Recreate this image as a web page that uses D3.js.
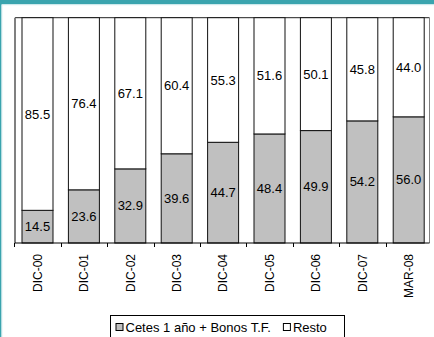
<!DOCTYPE html>
<html>
<head>
<meta charset="utf-8">
<script src="https://cdn.jsdelivr.net/npm/d3@7"></script>
<style>
  html, body { margin: 0; padding: 0; background: #fff; }
  svg { display: block; }
  text { font-family: "Liberation Sans", Arial, sans-serif; fill: #000; }
</style>
</head>
<body>
<svg id="chart" width="434" height="337"></svg>
<script>
// Shares of the total (%) per period
const categories = ["DIC-00", "DIC-01", "DIC-02", "DIC-03", "DIC-04", "DIC-05", "DIC-06", "DIC-07", "MAR-08"];
const cetes = [14.5, 23.6, 32.9, 39.6, 44.7, 48.4, 49.9, 54.2, 56.0];
const resto = [85.5, 76.4, 67.1, 60.4, 55.3, 51.6, 50.1, 45.8, 44.0];
const seriesNames = ["Cetes 1 año + Bonos T.F.", "Resto"];
const seriesColors = ["#c0c0c0", "#ffffff"];

const svg = d3.select("#chart");
const W = 434, H = 337;

// frame strip along the top and left
svg.append("rect").attr("x", 0).attr("y", 0).attr("width", W).attr("height", 4).attr("fill", "#3aa4ae");
svg.append("rect").attr("x", 0).attr("y", 4).attr("width", W).attr("height", 1.2).attr("fill", "#cde9ec");
svg.append("rect").attr("x", 0).attr("y", 0).attr("width", 1.5).attr("height", H).attr("fill", "#3aa4ae");
svg.append("rect").attr("x", 1.5).attr("y", 5).attr("width", 0.8).attr("height", H).attr("fill", "#cde9ec");

const plot = { left: 15, right: 429.5, top: 17.7, bottom: 243 };

const x = d3.scaleBand()
  .domain(categories)
  .range([14.3, 431.9])
  .paddingInner(0.332)
  .paddingOuter(0.166);

const y = d3.scaleLinear().domain([0, 100]).range([plot.bottom, plot.top]);

const rows = categories.map((c, i) => ({ cat: c, cetes: cetes[i], resto: resto[i] }));
const stack = d3.stack().keys(["cetes", "resto"])(rows);

// plot area border
svg.append("line").attr("x1", plot.left).attr("x2", plot.right)
  .attr("y1", plot.top).attr("y2", plot.top).attr("stroke", "#222").attr("stroke-width", 1);
svg.append("line").attr("x1", plot.left).attr("x2", plot.left)
  .attr("y1", plot.top).attr("y2", plot.bottom).attr("stroke", "#808080").attr("stroke-width", 2);
svg.append("line").attr("x1", plot.right).attr("x2", plot.right)
  .attr("y1", plot.top).attr("y2", plot.bottom).attr("stroke", "#808080").attr("stroke-width", 1);

// stacked bars
const layers = svg.append("g").selectAll("g").data(stack).join("g")
  .attr("fill", (d, i) => seriesColors[i]);

layers.selectAll("rect").data(d => d).join("rect")
  .attr("x", d => x(d.data.cat))
  .attr("width", x.bandwidth())
  .attr("y", d => y(d[1]))
  .attr("height", d => y(d[0]) - y(d[1]))
  .attr("stroke", "#111")
  .attr("stroke-width", 1);

// value labels centred in each segment
layers.selectAll("text").data(d => d).join("text")
  .attr("x", d => x(d.data.cat) + x.bandwidth() / 2)
  .attr("y", d => (y(d[0]) + y(d[1])) / 2)
  .attr("dy", "0.35em")
  .attr("text-anchor", "middle")
  .attr("font-size", 13)
  .text(d => (d[1] - d[0]).toFixed(1));

// category axis
const step = x.step();
const axisG = svg.append("g");
axisG.append("line").attr("x1", plot.left).attr("x2", plot.right)
  .attr("y1", plot.bottom).attr("y2", plot.bottom).attr("stroke", "#000").attr("stroke-width", 1);
axisG.selectAll("line.tick").data(d3.range(categories.length)).join("line")
  .attr("class", "tick")
  .attr("x1", i => Math.round(x.range()[0] + i * step) + 0.5)
  .attr("x2", i => Math.round(x.range()[0] + i * step) + 0.5)
  .attr("y1", plot.bottom).attr("y2", plot.bottom + 4)
  .attr("stroke", "#000");
axisG.selectAll("text").data(categories).join("text")
  .attr("transform", d => `translate(${x(d) + x.bandwidth() / 2},254) rotate(-90)`)
  .attr("text-anchor", "end")
  .attr("dy", "0.35em")
  .attr("font-size", 12)
  .text(d => d);

// legend
const leg = svg.append("g");
leg.append("rect").attr("x", 110.5).attr("y", 315.5).attr("width", 234).attr("height", 40)
  .attr("fill", "#fff").attr("stroke", "#000").attr("stroke-width", 1);
let lx = 115.5;
seriesNames.forEach((name, i) => {
  leg.append("rect").attr("x", lx + 0.5).attr("y", 323.5).attr("width", 7).attr("height", 7)
    .attr("fill", seriesColors[i]).attr("stroke", "#000");
  const t = leg.append("text").attr("x", lx + 10).attr("y", 327.5).attr("dy", "0.35em")
    .attr("font-size", 13).text(name);
  lx += 10 + t.node().getComputedTextLength() + 12;
});
</script>
</body>
</html>
